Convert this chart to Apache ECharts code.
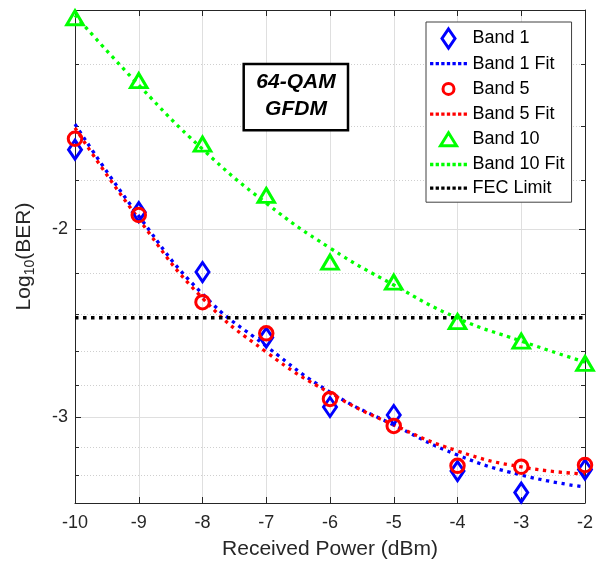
<!DOCTYPE html>
<html>
<head>
<meta charset="utf-8">
<script src="https://cdn.jsdelivr.net/npm/echarts@6/dist/echarts.min.js"></script>
<style>
  html, body { margin: 0; padding: 0; background: #fff; }
  #chart { width: 603px; height: 567px; }
</style>
</head>
<body>
<div id="chart"></div>
<script>
// Received optical power (dBm)
const receivedPower = [-10, -9, -8, -7, -6, -5, -4, -3, -2];

// Measured log10(BER) per band
const band1 = [-1.684, -1.927, -2.193, -2.526, -2.934, -2.985, -3.369, -3.529, -3.358];
const band5 = [-1.645, -1.939, -2.340, -2.503, -2.883, -3.056, -3.331, -3.337, -3.325];
const band10 = [-1.267, -1.451, -1.664, -1.859, -2.146, -2.241, -2.440, -2.545, -2.671];

// Fitted curves, log10(BER)
const band1Fit = [-1.594, -1.943, -2.299, -2.573, -2.841, -3.050, -3.254, -3.398, -3.487];
const band5Fit = [-1.607, -1.956, -2.320, -2.606, -2.847, -3.050, -3.226, -3.339, -3.390];
const band10Fit = [-1.260, -1.465, -1.682, -1.890, -2.082, -2.255, -2.422, -2.545, -2.663];

// Forward error correction threshold, log10(BER)
const fecLimit = -2.42;

// y tick positions, log10(BER)
const yMajorTicks = [-2, -3];
const yMinorTicks = [-1.4, -1.6, -1.8, -2.2, -2.4, -2.6, -2.8, -3.2, -3.4];
const yRange = [-1.246, -3.609];

const FONT = '"Liberation Sans", Arial, Helvetica, sans-serif';
const AXIS_COLOR = '#262626';
const BLUE = '#0000ff', RED = '#ff0000', GREEN = '#00ff00', BLACK = '#000000';

// The y axis is a reversed log scale of -log10(BER)
const depth = v => -v;
const pairs = arr => receivedPower.map((x, i) => [x, depth(arr[i])]);

function yAxisBase(extra) {
  return Object.assign({
    type: 'log',
    logBase: 10,
    inverse: true,
    min: depth(yRange[0]),
    max: depth(yRange[1]),
    axisLine: { show: false },
    axisLabel: { show: false },
    splitLine: { show: false },
    minorTick: { show: false },
    minorSplitLine: { show: false }
  }, extra);
}

const majorDepth = yMajorTicks.map(depth);
const minorDepth = yMinorTicks.map(depth);

// Legend icons drawn in a 38x20 box
const BOX = 'M0 0M38 20';
const diamondIcon = 'path://' + BOX + 'M19 0.5L25.5 10L19 19.5L12.5 10Z';
const circleIcon = 'path://' + BOX + 'M13.5 10A5.5 5.5 0 1 1 24.5 10A5.5 5.5 0 1 1 13.5 10Z';
const triangleIcon = 'path://' + BOX + 'M19 3.5L27 16.5L11 16.5Z';
let dots = '';
for (let k = 0; k < 7; k++) {
  const x0 = 0.55 + k * 5.6;
  dots += 'M' + x0 + ' 8.35h3.3v3.3h-3.3Z';
}
const dottedIcon = 'path://' + BOX + dots;

function markerSeries(name, data, symbol, size, color) {
  return {
    name, type: 'scatter', data: pairs(data), symbol, symbolSize: size,
    itemStyle: { color: 'rgba(0,0,0,0)', borderColor: color, borderWidth: 3, opacity: 1 },
    emphasis: { disabled: true }, z: 4
  };
}
function fitSeries(name, data, color) {
  return {
    name, type: 'line', data: pairs(data), smooth: true, symbol: 'none', showSymbol: false,
    lineStyle: { color, width: 3.3, type: [3.3, 4.6], opacity: 1 },
    itemStyle: { color },
    emphasis: { disabled: true }, z: 3
  };
}
function hollowLegend(name, icon, color) {
  return { name, icon, itemStyle: { color: 'rgba(0,0,0,0)', borderColor: color, borderWidth: 3, opacity: 1 } };
}
function dottedLegend(name, color) {
  return { name, icon: dottedIcon, itemStyle: { color, borderWidth: 0, opacity: 1 } };
}

const chart = echarts.init(document.getElementById('chart'), null, { renderer: 'canvas' });

chart.setOption({
  animation: false,
  backgroundColor: '#fff',
  grid: { left: 75, right: 18, top: 10, bottom: 64, containLabel: false },
  xAxis: [
    {
      type: 'value', position: 'bottom', min: -10, max: -2, interval: 1,
      name: 'Received Power (dBm)', nameLocation: 'middle', nameGap: 36,
      nameTextStyle: { fontSize: 21, fontFamily: FONT, color: AXIS_COLOR },
      axisLine: { show: true, onZero: false, lineStyle: { color: AXIS_COLOR, width: 1 } },
      axisTick: { show: true, inside: true, length: 6, lineStyle: { color: AXIS_COLOR } },
      axisLabel: { fontSize: 18, fontFamily: FONT, color: AXIS_COLOR, margin: 11 },
      splitLine: { show: true, lineStyle: { color: '#dfdfdf', width: 1 } }
    },
    {
      type: 'value', position: 'top', min: -10, max: -2, interval: 1,
      axisLine: { show: true, onZero: false, lineStyle: { color: AXIS_COLOR, width: 1 } },
      axisTick: { show: true, inside: true, length: 6, lineStyle: { color: AXIS_COLOR } },
      axisLabel: { show: false },
      splitLine: { show: false }
    }
  ],
  yAxis: [
    yAxisBase({
      position: 'left',
      name: '{a|Log}{b|10}{a|(BER)}', nameLocation: 'middle', nameGap: 38,
      nameTextStyle: {
        rich: {
          a: { fontSize: 21, fontFamily: FONT, color: AXIS_COLOR },
          b: { fontSize: 14, fontFamily: FONT, color: AXIS_COLOR, padding: [12, 0, 0, 0] }
        }
      },
      axisLine: { show: true, onZero: false, lineStyle: { color: AXIS_COLOR, width: 1 } },
      axisTick: { show: true, inside: true, length: 6, customValues: majorDepth, lineStyle: { color: AXIS_COLOR } },
      axisLabel: {
        show: true, customValues: majorDepth, fontSize: 18, fontFamily: FONT, color: AXIS_COLOR, margin: 7,
        formatter: v => String(-v)
      },
      splitLine: { show: true, lineStyle: { color: '#dfdfdf', width: 1 } }
    }),
    yAxisBase({
      position: 'left',
      axisTick: { show: true, inside: true, length: 4, customValues: minorDepth, lineStyle: { color: AXIS_COLOR } },
      splitLine: { show: true, lineStyle: { color: '#cfcfcf', width: 1, type: [1, 2] } }
    }),
    yAxisBase({
      position: 'right',
      axisLine: { show: true, onZero: false, lineStyle: { color: AXIS_COLOR, width: 1 } },
      axisTick: { show: true, inside: true, length: 6, customValues: majorDepth, lineStyle: { color: AXIS_COLOR } }
    }),
    yAxisBase({
      position: 'right',
      axisTick: { show: true, inside: true, length: 4, customValues: minorDepth, lineStyle: { color: AXIS_COLOR } }
    })
  ],
  legend: {
    orient: 'vertical', left: 426, top: 22,
    itemWidth: 38, itemHeight: 20, itemGap: 3.7,
    padding: [5, 7, 4, 2],
    borderColor: '#404040', borderWidth: 1, backgroundColor: '#fff',
    selectedMode: false,
    textStyle: { fontSize: 18, fontFamily: FONT, color: '#000' },
    data: [
      hollowLegend('Band 1', diamondIcon, BLUE),
      dottedLegend('Band 1 Fit', BLUE),
      hollowLegend('Band 5', circleIcon, RED),
      dottedLegend('Band 5 Fit', RED),
      hollowLegend('Band 10', triangleIcon, GREEN),
      dottedLegend('Band 10 Fit', GREEN),
      dottedLegend('FEC Limit', BLACK)
    ]
  },
  graphic: [
    {
      type: 'rect', x: 243.7, y: 64, z: 10,
      shape: { width: 104.3, height: 66.3 },
      style: { fill: '#fff', stroke: '#000', lineWidth: 2.5 }
    },
    {
      type: 'text', x: 296, y: 96, z: 11,
      style: {
        text: '64-QAM\nGFDM', fill: '#000', fontSize: 21, fontWeight: 'bold', fontStyle: 'italic',
        fontFamily: FONT, align: 'center', verticalAlign: 'middle', lineHeight: 27
      }
    }
  ],
  series: [
    markerSeries('Band 1', band1, 'diamond', [13, 19], BLUE),
    fitSeries('Band 1 Fit', band1Fit, BLUE),
    markerSeries('Band 5', band5, 'circle', 13.5, RED),
    fitSeries('Band 5 Fit', band5Fit, RED),
    markerSeries('Band 10', band10, 'triangle', [16.5, 14], GREEN),
    fitSeries('Band 10 Fit', band10Fit, GREEN),
    {
      name: 'FEC Limit', type: 'line', symbol: 'none', showSymbol: false,
      data: [[receivedPower[0], depth(fecLimit)], [receivedPower[receivedPower.length - 1], depth(fecLimit)]],
      lineStyle: { color: BLACK, width: 3.5, type: [3.5, 4.5] },
      itemStyle: { color: BLACK },
      emphasis: { disabled: true }, z: 3
    }
  ]
});
</script>
</body>
</html>
